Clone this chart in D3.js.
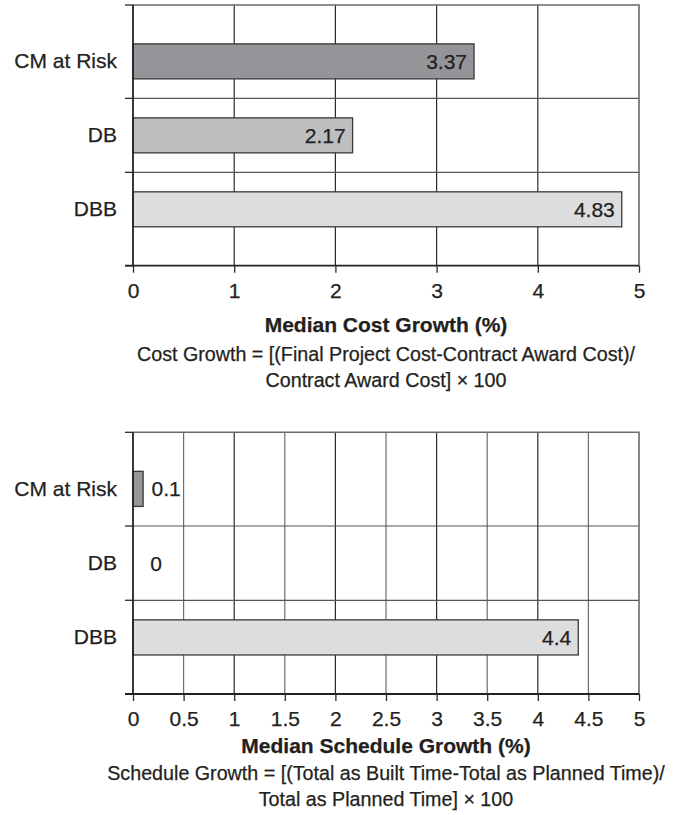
<!DOCTYPE html>
<html>
<head>
<meta charset="utf-8">
<script src="https://cdn.jsdelivr.net/npm/d3@7"></script>
<style>
  html, body { margin: 0; padding: 0; background: #fff; }
  svg { display: block; }
  text { font-family: "Liberation Sans", Arial, Helvetica, sans-serif; fill: #231f20; stroke: #231f20; stroke-width: 0.25px; }
</style>
</head>
<body>
<svg id="chart" width="696" height="815"></svg>
<script>
// Delivery methods compared in both panels
const categories = ["CM at Risk", "DB", "DBB"];

// Median growth values (%) per delivery method
const costGrowth = [3.37, 2.17, 4.83];
const scheduleGrowth = [0.1, 0, 4.4];

// Axis tick values for each panel
const costTicks = [0, 1, 2, 3, 4, 5];
const scheduleTicks = [0, 0.5, 1, 1.5, 2, 2.5, 3, 3.5, 4, 4.5, 5];

// Fill for each delivery method's bar
const barColors = ["#939598", "#bcbec0", "#dcdddf"];

// Axis titles and formula notes
const costTitle = "Median Cost Growth (%)";
const costNote = ["Cost Growth = [(Final Project Cost-Contract Award Cost)/", "Contract Award Cost] \u00d7 100"];
const scheduleTitle = "Median Schedule Growth (%)";
const scheduleNote = ["Schedule Growth = [(Total as Built Time-Total as Planned Time)/", "Total as Planned Time] \u00d7 100"];

const svg = d3.select("#chart");
const left = 133, right = 639;
const fontSize = 21;
const noteSize = 19.7;

function drawPanel(top, bottom, values, ticks, title, note, titleGap, noteGap) {
  const g = svg.append("g");

  const x = d3.scaleLinear().domain([0, 5]).range([left, right]);
  const y = d3.scaleBand().domain(categories).range([top, bottom])
    .paddingInner(0).paddingOuter(0.262);
  const step = y.step();
  const barH = step * 0.473;

  // vertical gridlines
  g.append("g").selectAll("line")
    .data(ticks.filter(t => t > 0 && t < 5))
    .join("line")
    .attr("x1", d => x(d)).attr("x2", d => x(d))
    .attr("y1", top).attr("y2", bottom)
    .attr("stroke", d => Number.isInteger(d) ? "#2b2b2b" : "#6d6d6d")
    .attr("stroke-width", 1.2);

  // horizontal separators between categories
  const bounds = categories.slice(1).map(c => y(c));
  g.append("g").selectAll("line")
    .data(bounds)
    .join("line")
    .attr("x1", left).attr("x2", right)
    .attr("y1", d => d).attr("y2", d => d)
    .attr("stroke", "#555")
    .attr("stroke-width", 1.2);

  // frame top and right
  g.append("path")
    .attr("d", `M${left},${top}H${right}V${bottom}`)
    .attr("fill", "none")
    .attr("stroke", "#6a6a6a")
    .attr("stroke-width", 1.6);

  // bars
  const rows = categories.map((c, i) => ({ c, v: values[i], color: barColors[i] }));
  g.append("g").selectAll("rect")
    .data(rows.filter(r => r.v > 0))
    .join("rect")
    .attr("x", x(0))
    .attr("y", d => y(d.c) + (step - barH) / 2)
    .attr("width", d => x(d.v) - x(0))
    .attr("height", barH)
    .attr("fill", d => d.color)
    .attr("stroke", "#3a3a3a")
    .attr("stroke-width", 1.3);

  // value labels: inside the bar end, or beside a bar too short to hold them
  const inside = d => x(d.v) - x(0) > 60;
  g.append("g").selectAll("text")
    .data(rows)
    .join("text")
    .attr("x", d => inside(d) ? x(d.v) - 7 : x(d.v) + 23)
    .attr("y", d => y(d.c) + step / 2)
    .attr("dy", "0.36em")
    .attr("text-anchor", d => inside(d) ? "end" : "middle")
    .style("font-size", fontSize + "px")
    .text(d => String(d.v));

  // category axis with ticks at row boundaries
  const yAxis = g.append("g")
    .attr("transform", `translate(${left},0)`)
    .call(d3.axisLeft(y).tickSize(0).tickPadding(16));
  yAxis.select(".domain").remove();
  yAxis.selectAll("text").style("font-size", fontSize + "px").attr("fill", "#231f20");
  g.append("g").selectAll("line")
    .data([top, ...bounds, bottom])
    .join("line")
    .attr("x1", left - 8).attr("x2", left)
    .attr("y1", d => d).attr("y2", d => d)
    .attr("stroke", "#2b2b2b").attr("stroke-width", 1.3);
  g.append("line")
    .attr("x1", left).attr("x2", left)
    .attr("y1", top).attr("y2", bottom)
    .attr("stroke", "#222").attr("stroke-width", 1.8);

  // value axis
  const xAxis = g.append("g")
    .attr("transform", `translate(0,${bottom})`)
    .call(d3.axisBottom(x).tickValues(ticks).tickSize(7).tickPadding(10)
      .tickFormat(d => String(d)).tickSizeOuter(0));
  xAxis.select(".domain").attr("stroke", "#222").attr("stroke-width", 1.8)
    .attr("d", `M${left - 8},0H${right}`);
  xAxis.selectAll(".tick line").attr("stroke", "#2b2b2b").attr("stroke-width", 1.3);
  xAxis.selectAll(".tick text").style("font-size", fontSize + "px").attr("fill", "#231f20");

  const cx = (left + right) / 2;
  g.append("text")
    .attr("x", cx).attr("y", bottom + titleGap)
    .attr("text-anchor", "middle")
    .style("font-size", fontSize + "px")
    .style("font-weight", "bold")
    .text(title);
  note.forEach((line, i) => {
    g.append("text")
      .attr("x", cx).attr("y", bottom + noteGap + i * 26)
      .attr("text-anchor", "middle")
      .style("font-size", noteSize + "px")
      .text(line);
  });
}

drawPanel(5, 265.7, costGrowth, costTicks, costTitle, costNote, 66, 95);
drawPanel(432.3, 694, scheduleGrowth, scheduleTicks, scheduleTitle, scheduleNote, 59, 86);
</script>
</body>
</html>
